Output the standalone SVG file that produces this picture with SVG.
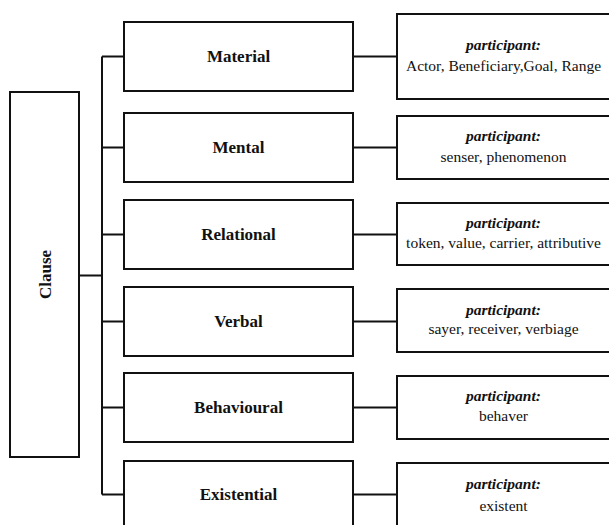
<svg xmlns="http://www.w3.org/2000/svg" width="609" height="525" viewBox="0 0 609 525">
<style>
.box{fill:#fff;stroke:#111;stroke-width:2}
.ln{fill:none;stroke:#111;stroke-width:2}
.lbl{font-family:"Liberation Serif","Times New Roman",serif;font-weight:bold;font-size:17px;fill:#111;text-anchor:middle}
.p{font-family:"Liberation Serif","Times New Roman",serif;font-weight:bold;font-style:italic;font-size:15.5px;fill:#111;text-anchor:middle}
.v{font-family:"Liberation Serif","Times New Roman",serif;font-size:15.5px;fill:#111;text-anchor:middle}
</style>
<rect width="609" height="525" fill="#fff"/>
<g id="connectors">
<path class="ln" d="M79 275.5H102M102 56.5V494.5M102 56.5H124M102 147.5H124M102 234.5H124M102 321.5H124M102 407.5H124M102 494.5H124"/>
<path class="ln" d="M353 56.5H397M353 147.5H397M353 234.5H397M353 321.5H397M353 407.5H397M353 494.5H397"/>
</g>
<g id="clause">
<rect class="box" x="10" y="92" width="69" height="365"/>
<text class="lbl" transform="translate(50.5 274.5) rotate(-90)">Clause</text>
</g>
<g id="material">
<rect class="box" x="124" y="22" width="229" height="69"/>
<text class="lbl" x="238.5" y="62">Material</text>
</g>
<g id="mental">
<rect class="box" x="124" y="113" width="229" height="69"/>
<text class="lbl" x="238.5" y="153">Mental</text>
</g>
<g id="relational">
<rect class="box" x="124" y="200" width="229" height="69"/>
<text class="lbl" x="238.5" y="240">Relational</text>
</g>
<g id="verbal">
<rect class="box" x="124" y="287" width="229" height="69"/>
<text class="lbl" x="238.5" y="327">Verbal</text>
</g>
<g id="behavioural">
<rect class="box" x="124" y="373" width="229" height="69"/>
<text class="lbl" x="238.5" y="413">Behavioural</text>
</g>
<g id="existential">
<rect class="box" x="124" y="461" width="229" height="69"/>
<text class="lbl" x="238.5" y="500">Existential</text>
</g>
<g id="material-participant">
<rect class="box" x="397" y="14" width="220" height="85"/>
<text class="p" x="503.5" y="50">participant:</text>
<text class="v" x="503.5" y="71">Actor, Beneficiary,Goal, Range</text>
</g>
<g id="mental-participant">
<rect class="box" x="397" y="116" width="220" height="63"/>
<text class="p" x="503.5" y="141">participant:</text>
<text class="v" x="503.5" y="162">senser, phenomenon</text>
</g>
<g id="relational-participant">
<rect class="box" x="397" y="203" width="220" height="62"/>
<text class="p" x="503.5" y="228">participant:</text>
<text class="v" x="503.5" y="248">token, value, carrier, attributive</text>
</g>
<g id="verbal-participant">
<rect class="box" x="397" y="289" width="220" height="63"/>
<text class="p" x="503.5" y="315">participant:</text>
<text class="v" x="503.5" y="334">sayer, receiver, verbiage</text>
</g>
<g id="behavioural-participant">
<rect class="box" x="397" y="376" width="220" height="63"/>
<text class="p" x="503.5" y="401">participant:</text>
<text class="v" x="503.5" y="421">behaver</text>
</g>
<g id="existential-participant">
<rect class="box" x="397" y="463" width="220" height="70"/>
<text class="p" x="503.5" y="489">participant:</text>
<text class="v" x="503.5" y="511">existent</text>
</g>
</svg>
